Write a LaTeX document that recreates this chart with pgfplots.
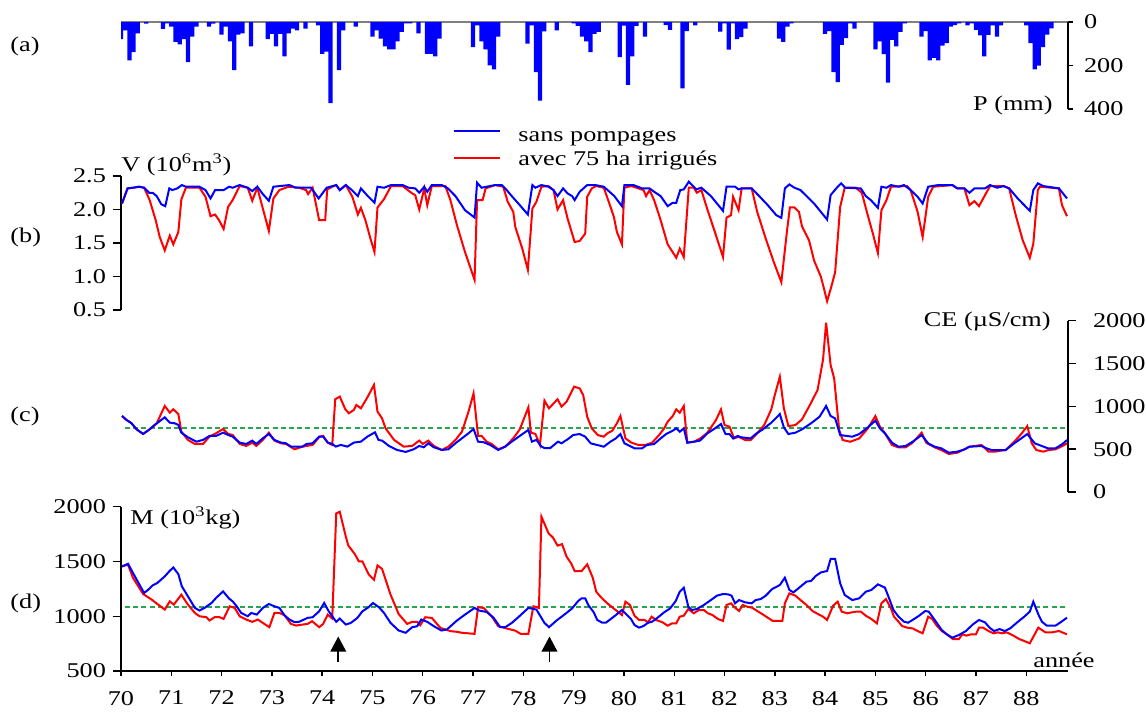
\documentclass[border=0pt]{standalone}
\usepackage{pgfplots}
\pgfplotsset{compat=1.18}
\usetikzlibrary{arrows.meta}
\usepackage{fontspec}
\setmainfont{Liberation Serif}[FakeStretch=1.25]
\definecolor{dgreen}{RGB}{40,165,80}
\pgfplotsset{
  myax/.style={scale only axis, width=473.5pt, xmin=70, xmax=88.83, anchor=north west,
    tick align=outside, axis line style={line width=0.7pt}, tick style={line width=0.7pt, black},
    major tick length=4pt},
  blu/.style={blue, line width=1pt},
  rd/.style={red, line width=1pt},
  gdash/.style={dgreen, line width=1pt, dash pattern=on 2.5pt off 1.6pt},
}
\begin{document}
\begin{tikzpicture}[font=\fontsize{10.5}{12.5}\selectfont]
\path[use as bounding box] (0,0) rectangle (573pt,-362pt);

% ---------------- (a) precipitation
\begin{axis}[myax, at={(60.5pt,-11pt)}, height=43.5pt, ymin=-400, ymax=0,
  axis x line*=top, axis y line*=right, xtick=\empty,
  ytick={-400,-200,0}, yticklabels={400,200,0},
  yticklabel style={xshift=2pt},
  x axis line style={gray, line width=1pt}, major tick length=2.5pt]
\addplot[ybar, bar width=0.0845, bar shift=0pt, fill=blue, draw=none]
 table[row sep=\\, x expr=70+\thisrow{m}/12, y expr=-\thisrow{P}] {
m P\\ 0 79\\ 1 39\\ 2 176\\ 3 139\\ 4 52\\ 6 8\\ 10 32\\ 11 6\\ 12 21\\ 13 91\\ 14 103\\ 15 79\\ 16 185\\ 17 67\\ 18 21\\ 21 21\\ 22 8\\
24 58\\ 25 21\\ 26 89\\ 27 221\\ 28 58\\ 29 52\\ 31 112\\ 35 79\\ 36 55\\ 37 112\\ 38 55\\ 39 158\\ 40 52\\ 41 30\\ 42 39\\ 44 30\\ 47 15\\
48 147\\ 49 136\\ 50 373\\ 52 221\\ 53 39\\ 56 21\\ 60 67\\ 61 39\\ 62 76\\ 63 112\\ 64 126\\ 65 126\\ 66 89\\ 67 45\\ 68 6\\ 69 6\\ 71 52\\
73 147\\ 74 147\\ 75 158\\ 76 76\\ 84 115\\ 85 15\\ 86 89\\ 87 126\\ 88 199\\ 89 218\\ 90 67\\ 97 99\\ 98 15\\ 99 230\\ 100 362\\ 101 43\\
104 39\\ 108 6\\ 109 18\\ 110 67\\ 111 89\\ 112 139\\ 113 55\\ 114 45\\ 119 161\\ 120 17\\ 121 289\\ 122 158\\ 123 18\\ 125 67\\ 130 14\\
131 36\\ 134 305\\ 135 42\\ 137 15\\ 143 44\\ 144 6\\ 145 127\\ 146 6\\ 147 79\\ 148 70\\ 149 30\\ 157 76\\ 158 91\\ 159 21\\ 160 6\\
168 55\\ 169 42\\ 170 230\\ 171 276\\ 172 105\\ 173 74\\ 174 6\\ 175 30\\ 180 126\\ 181 89\\ 182 148\\ 183 279\\ 184 82\\ 185 112\\ 186 45\\
187 6\\ 191 67\\ 192 42\\ 193 176\\ 194 165\\ 195 176\\ 196 109\\ 197 97\\ 198 21\\ 199 14\\ 200 6\\ 202 15\\ 203 6\\ 204 36\\ 205 61\\
206 158\\ 207 59\\ 208 15\\ 209 67\\ 210 15\\ 216 15\\ 217 97\\ 218 218\\ 219 200\\ 220 115\\ 221 58\\ 222 29\\
};
\end{axis}

% ---------------- (b) volume
\begin{axis}[myax, at={(60.5pt,-88pt)}, height=67pt, ymin=0.5, ymax=2.5,
  axis y line*=left, axis x line=none,
  ytick={0.5,1,1.5,2,2.5}, yticklabels={0.5,1.0,1.5,2.0,2.5}]
\addplot[rd] coordinates {(70.02,2.09)(70.13,2.315)(70.24,2.325)(70.36,2.34)(70.46,2.325)(70.57,2.14)(70.69,1.84)(70.77,1.59)(70.87,1.39)(70.97,1.61)(71.04,1.48)(71.14,1.665)(71.2,2.15)(71.29,2.325)(71.56,2.325)(71.68,2.19)(71.78,1.9)(71.87,1.925)(71.95,1.84)(72.04,1.71)(72.13,2.04)(72.22,2.14)(72.36,2.35)(72.52,2.325)(72.61,2.13)(72.71,2.325)(72.82,2.015)(72.94,1.68)(73.03,2.165)(73.15,2.29)(73.33,2.34)(73.54,2.325)(73.68,2.29)(73.72,2.23)(73.81,2.325)(73.86,2.14)(73.94,1.84)(74.06,1.84)(74.1,2.3)(74.2,2.34)(74.28,2.365)(74.35,2.29)(74.47,2.365)(74.6,2.19)(74.71,1.925)(74.77,2.025)(74.86,1.84)(74.96,1.565)(75.04,1.365)(75.1,2.03)(75.23,2.155)(75.37,2.35)(75.6,2.35)(75.79,2.24)(75.85,2.215)(75.93,2.0)(76.03,2.315)(76.09,2.065)(76.18,2.35)(76.45,2.35)(76.55,2.14)(76.68,1.765)(76.84,1.365)(77.03,0.95)(77.08,2.14)(77.19,2.14)(77.25,2.315)(77.44,2.365)(77.6,2.34)(77.69,2.115)(77.8,1.965)(77.84,1.74)(77.98,1.415)(78.09,1.1)(78.18,2.015)(78.26,2.115)(78.36,2.34)(78.5,2.35)(78.6,2.29)(78.68,2.0)(78.79,2.14)(78.88,1.865)(79.02,1.515)(79.12,1.53)(79.23,1.64)(79.27,2.19)(79.36,2.315)(79.45,2.35)(79.6,2.325)(79.71,2.09)(79.8,1.89)(79.86,1.665)(79.96,1.48)(80.01,2.325)(80.15,2.35)(80.39,2.29)(80.44,2.2)(80.51,2.29)(80.6,2.14)(80.71,1.89)(80.87,1.48)(81.04,1.28)(81.11,1.415)(81.19,1.29)(81.29,2.325)(81.39,2.325)(81.45,2.25)(81.54,2.29)(81.66,2.0)(81.83,1.615)(81.97,1.29)(82.04,1.88)(82.13,1.915)(82.17,2.19)(82.28,1.99)(82.34,2.315)(82.54,2.315)(82.65,1.965)(82.82,1.565)(82.98,1.215)(83.13,0.915)(83.24,1.665)(83.3,2.03)(83.39,2.03)(83.48,1.965)(83.54,1.75)(83.68,1.54)(83.78,1.24)(83.92,0.99)(84.04,0.63)(84.13,0.865)(84.2,1.065)(84.3,2.04)(84.39,2.325)(84.61,2.325)(84.73,2.25)(84.83,1.965)(84.95,1.64)(85.05,1.35)(85.12,1.99)(85.22,2.14)(85.31,2.34)(85.63,2.35)(85.7,2.29)(85.84,1.965)(85.94,1.59)(86.05,2.19)(86.15,2.34)(86.53,2.365)(86.63,2.315)(86.77,2.315)(86.87,2.065)(86.97,2.125)(87.06,2.05)(87.18,2.215)(87.28,2.35)(87.55,2.35)(87.66,2.315)(87.79,1.915)(87.93,1.54)(88.07,1.28)(88.14,1.49)(88.23,2.29)(88.27,2.34)(88.65,2.315)(88.71,2.065)(88.81,1.9)};
\addplot[blu] coordinates {(70.02,2.09)(70.13,2.315)(70.24,2.325)(70.36,2.34)(70.46,2.325)(70.56,2.25)(70.63,2.25)(70.71,2.2)(70.8,2.08)(70.88,2.05)(70.96,2.315)(71.02,2.29)(71.12,2.315)(71.21,2.365)(71.29,2.34)(71.56,2.34)(71.68,2.29)(71.78,2.165)(71.87,2.29)(72.04,2.29)(72.15,2.34)(72.22,2.325)(72.36,2.365)(72.52,2.325)(72.61,2.275)(72.71,2.34)(72.82,2.23)(72.94,2.13)(73.03,2.34)(73.35,2.365)(73.47,2.325)(73.78,2.325)(73.93,2.165)(74.09,2.325)(74.28,2.365)(74.35,2.29)(74.47,2.365)(74.59,2.29)(74.71,2.2)(74.77,2.315)(74.92,2.19)(75.04,2.1)(75.1,2.34)(75.23,2.325)(75.37,2.365)(75.6,2.365)(75.72,2.325)(75.85,2.315)(75.93,2.25)(76.03,2.34)(76.09,2.265)(76.18,2.365)(76.38,2.365)(76.5,2.315)(76.65,2.2)(76.84,1.99)(77.03,1.88)(77.08,2.4)(77.17,2.325)(77.44,2.365)(77.57,2.365)(77.64,2.315)(77.77,2.2)(77.93,2.065)(78.09,1.925)(78.18,2.365)(78.24,2.325)(78.36,2.365)(78.5,2.34)(78.6,2.29)(78.68,2.2)(78.79,2.315)(78.88,2.24)(78.97,2.2)(79.02,2.14)(79.12,2.265)(79.27,2.365)(79.43,2.365)(79.6,2.34)(79.81,2.2)(79.96,2.05)(80.01,2.365)(80.19,2.365)(80.36,2.315)(80.51,2.315)(80.6,2.265)(80.73,2.2)(80.87,2.05)(80.97,2.1)(81.04,2.1)(81.12,2.29)(81.19,2.3)(81.29,2.415)(81.44,2.3)(81.54,2.325)(81.73,2.2)(81.97,1.98)(82.04,2.34)(82.21,2.34)(82.28,2.3)(82.34,2.315)(82.54,2.315)(82.69,2.2)(82.86,2.065)(83.03,1.915)(83.13,1.875)(83.2,2.315)(83.29,2.375)(83.39,2.325)(83.51,2.29)(83.78,2.09)(84.04,1.85)(84.11,2.215)(84.25,2.34)(84.32,2.39)(84.4,2.325)(84.71,2.315)(84.81,2.2)(84.91,2.14)(85.05,2.025)(85.12,2.34)(85.22,2.325)(85.31,2.365)(85.46,2.34)(85.57,2.365)(85.7,2.29)(85.84,2.19)(85.94,2.09)(86.05,2.34)(86.25,2.365)(86.53,2.365)(86.63,2.315)(86.77,2.315)(86.87,2.25)(86.97,2.315)(87.18,2.315)(87.28,2.365)(87.42,2.325)(87.55,2.35)(87.66,2.315)(87.83,2.165)(87.96,2.065)(88.07,1.98)(88.14,2.29)(88.23,2.39)(88.34,2.35)(88.65,2.315)(88.81,2.165)};
\end{axis}

% ---------------- (c) conductivity
\begin{axis}[myax, at={(60.5pt,-160.35pt)}, height=85.65pt, ymin=0, ymax=2000,
  axis y line*=right, axis x line=none,
  ytick={0,500,1000,1500,2000}, yticklabels={0,500,1000,1500,2000},
  yticklabel style={xshift=5pt}]
\addplot[gdash] coordinates {(70.08,745)(88.81,745)};
\addplot[rd] coordinates {(70.02,888)(70.11,841)(70.21,802)(70.31,732)(70.44,678)(70.57,732)(70.71,802)(70.87,1005)(70.97,927)(71.04,966)(71.14,911)(71.2,705)(71.33,608)(71.47,561)(71.63,561)(71.76,647)(71.89,686)(72.03,736)(72.13,678)(72.22,666)(72.36,561)(72.49,538)(72.61,577)(72.69,538)(72.82,608)(72.94,693)(73.05,600)(73.18,569)(73.28,561)(73.45,499)(73.61,530)(73.81,550)(73.95,647)(74.02,655)(74.11,577)(74.2,550)(74.26,1083)(74.35,1114)(74.46,966)(74.53,919)(74.63,958)(74.68,1016)(74.77,977)(74.9,1106)(75.03,1250)(75.1,939)(75.19,861)(75.26,744)(75.43,608)(75.62,530)(75.79,538)(75.93,600)(76.0,561)(76.11,600)(76.22,538)(76.38,491)(76.51,530)(76.65,608)(76.78,705)(76.91,939)(77.01,1152)(77.1,655)(77.17,655)(77.27,588)(77.37,561)(77.5,499)(77.64,530)(77.8,627)(77.93,732)(78.1,989)(78.15,693)(78.24,678)(78.33,550)(78.42,1067)(78.51,977)(78.68,1083)(78.76,997)(78.86,1055)(79.01,1230)(79.12,1210)(79.19,1132)(79.27,879)(79.36,743)(79.48,665)(79.6,646)(79.67,685)(79.77,716)(79.86,802)(79.93,887)(80.03,626)(80.15,576)(80.29,549)(80.43,549)(80.56,576)(80.7,665)(80.8,743)(80.87,821)(80.97,887)(81.04,965)(81.11,926)(81.19,1004)(81.26,576)(81.39,587)(81.52,626)(81.66,693)(81.83,840)(81.93,965)(82.0,782)(82.1,763)(82.19,626)(82.28,646)(82.41,607)(82.52,607)(82.62,665)(82.79,782)(82.93,965)(83.0,1132)(83.1,1346)(83.18,977)(83.27,770)(83.41,782)(83.54,848)(83.68,996)(83.85,1191)(83.96,1549)(84.02,1977)(84.11,1482)(84.18,1327)(84.28,724)(84.35,607)(84.5,587)(84.68,626)(84.85,743)(85.0,887)(85.09,763)(85.19,685)(85.33,549)(85.46,521)(85.6,521)(85.74,576)(85.92,693)(86.01,576)(86.18,521)(86.31,490)(86.46,444)(86.63,459)(86.77,498)(86.87,529)(87.11,549)(87.25,471)(87.38,471)(87.48,482)(87.59,490)(87.76,587)(87.9,677)(88.02,770)(88.11,568)(88.2,490)(88.34,471)(88.44,490)(88.58,498)(88.72,537)(88.81,568)};
\addplot[blu] coordinates {(70.02,888)(70.11,841)(70.21,802)(70.31,732)(70.44,678)(70.57,732)(70.67,783)(70.87,872)(70.97,810)(71.07,802)(71.14,783)(71.2,693)(71.33,639)(71.5,588)(71.63,608)(71.76,655)(71.89,655)(72.03,693)(72.13,666)(72.22,647)(72.36,577)(72.49,561)(72.61,600)(72.69,561)(72.82,627)(72.94,678)(73.05,608)(73.18,577)(73.28,569)(73.38,530)(73.61,530)(73.69,561)(73.81,569)(73.94,647)(74.02,647)(74.11,577)(74.2,561)(74.27,530)(74.37,550)(74.5,530)(74.63,577)(74.77,588)(74.9,647)(75.05,697)(75.12,608)(75.19,600)(75.33,538)(75.49,491)(75.66,468)(75.82,499)(75.93,538)(76.02,522)(76.11,569)(76.22,522)(76.38,491)(76.51,499)(76.65,569)(76.78,627)(76.91,686)(77.01,736)(77.1,588)(77.21,581)(77.34,550)(77.5,491)(77.64,530)(77.77,588)(77.93,655)(78.1,725)(78.17,588)(78.26,608)(78.36,530)(78.43,511)(78.53,511)(78.69,588)(78.76,569)(78.88,615)(78.99,665)(79.12,677)(79.23,646)(79.34,568)(79.47,549)(79.6,529)(79.73,587)(79.84,626)(79.93,677)(80.01,568)(80.12,537)(80.21,510)(80.36,510)(80.46,549)(80.6,560)(80.73,626)(80.84,677)(80.97,716)(81.04,743)(81.11,704)(81.19,743)(81.26,576)(81.39,587)(81.51,599)(81.66,685)(81.81,743)(81.93,794)(82.02,677)(82.1,677)(82.17,626)(82.26,654)(82.34,638)(82.52,626)(82.62,677)(82.76,731)(82.93,809)(83.1,910)(83.18,755)(83.27,677)(83.41,693)(83.54,731)(83.72,802)(83.89,879)(84.02,1004)(84.11,887)(84.2,860)(84.3,665)(84.44,654)(84.54,646)(84.68,677)(84.85,755)(85.0,833)(85.09,743)(85.19,685)(85.33,576)(85.46,529)(85.6,537)(85.74,587)(85.92,665)(86.05,568)(86.18,529)(86.31,510)(86.46,459)(86.63,471)(86.77,498)(86.87,529)(87.11,537)(87.21,510)(87.31,490)(87.59,490)(87.76,568)(87.9,626)(88.02,677)(88.17,568)(88.31,537)(88.43,510)(88.58,510)(88.72,560)(88.81,607)};
\end{axis}

% ---------------- (d) mass
\begin{axis}[myax, at={(60.5pt,-253.35pt)}, height=82.15pt, ymin=500, ymax=2000,
  axis y line*=left, axis x line*=bottom,
  xtick={70,71,...,88}, xticklabels={70,71,72,73,74,75,76,77,78,79,80,81,82,83,84,85,86,87,88},
  xticklabel style={yshift=-2.5pt},
  ytick={500,1000,1500,2000}, yticklabels={500,1000,1500,2000},
  xtick style={/pgfplots/major tick length=2.5pt}]
\addplot[gdash] coordinates {(70.08,1082)(88.81,1082)};
\addplot[rd] coordinates {(70.02,1455)(70.14,1470)(70.24,1349)(70.44,1203)(70.61,1152)(70.74,1106)(70.87,1061)(70.97,1136)(71.05,1106)(71.2,1197)(71.33,1106)(71.47,1030)(71.56,1000)(71.7,991)(71.76,961)(71.86,991)(71.96,991)(72.04,976)(72.16,1091)(72.26,1076)(72.36,1000)(72.49,970)(72.61,949)(72.72,970)(72.82,939)(72.95,900)(73.05,1030)(73.15,1030)(73.25,1009)(73.38,930)(73.48,915)(73.61,924)(73.71,930)(73.8,955)(73.94,900)(74.02,930)(74.11,1015)(74.2,979)(74.28,1939)(74.35,1954)(74.47,1727)(74.52,1645)(74.65,1567)(74.73,1500)(74.8,1500)(74.93,1379)(75.03,1333)(75.1,1464)(75.19,1433)(75.36,1197)(75.52,1021)(75.69,930)(75.79,949)(75.89,949)(75.95,918)(76.05,991)(76.18,985)(76.35,894)(76.55,864)(76.68,858)(76.78,849)(77.03,839)(77.1,1082)(77.21,1076)(77.37,1000)(77.5,909)(77.67,888)(77.83,870)(77.95,839)(78.1,839)(78.2,1091)(78.31,1076)(78.36,1909)(78.5,1758)(78.59,1718)(78.68,1645)(78.77,1658)(78.86,1544)(78.95,1483)(79.02,1413)(79.16,1413)(79.27,1474)(79.38,1352)(79.45,1224)(79.55,1170)(79.67,1118)(79.81,1066)(79.96,1011)(80.03,1133)(80.12,1103)(80.21,1005)(80.3,966)(80.41,966)(80.48,944)(80.55,996)(80.64,966)(80.77,944)(80.87,914)(80.96,935)(81.04,935)(81.11,996)(81.19,1005)(81.28,1066)(81.39,1027)(81.49,1057)(81.59,1057)(81.67,1027)(81.76,1011)(81.87,975)(81.97,957)(82.04,1103)(82.13,1118)(82.21,1078)(82.29,1048)(82.36,1103)(82.45,1087)(82.55,1078)(82.65,1048)(82.76,1017)(82.86,987)(82.96,957)(83.15,957)(83.2,1118)(83.29,1209)(83.41,1188)(83.51,1148)(83.63,1103)(83.75,1048)(83.87,1017)(83.96,996)(84.04,966)(84.16,1097)(84.25,1133)(84.33,1042)(84.44,1027)(84.54,1036)(84.62,1042)(84.71,1042)(84.81,1005)(84.92,975)(85.03,935)(85.12,1118)(85.21,1157)(85.31,1072)(85.37,996)(85.46,950)(85.53,911)(85.63,896)(85.74,889)(85.84,865)(85.94,844)(86.05,996)(86.13,975)(86.22,914)(86.32,865)(86.42,835)(86.54,792)(86.66,792)(86.73,835)(86.81,823)(86.9,835)(87.0,835)(87.06,896)(87.14,896)(87.25,865)(87.35,844)(87.43,853)(87.52,844)(87.61,853)(87.72,829)(87.86,792)(87.96,774)(88.07,753)(88.16,829)(88.24,896)(88.38,853)(88.51,853)(88.65,865)(88.81,835)};
\addplot[blu] coordinates {(70.02,1455)(70.14,1479)(70.24,1394)(70.36,1294)(70.46,1212)(70.54,1242)(70.63,1282)(70.72,1303)(70.87,1364)(70.97,1415)(71.04,1445)(71.14,1385)(71.21,1273)(71.33,1182)(71.47,1076)(71.56,1052)(71.66,1076)(71.8,1121)(71.89,1167)(72.03,1227)(72.15,1161)(72.22,1136)(72.3,1091)(72.39,1030)(72.52,1000)(72.59,1030)(72.7,1015)(72.82,1076)(72.94,1112)(73.05,1091)(73.15,1076)(73.25,1009)(73.35,970)(73.45,946)(73.54,949)(73.71,985)(73.81,991)(73.94,1045)(74.04,1121)(74.13,1045)(74.28,949)(74.35,979)(74.47,924)(74.57,939)(74.7,985)(74.8,1045)(74.92,1082)(75.01,1121)(75.13,1082)(75.23,1030)(75.36,939)(75.52,870)(75.66,849)(75.79,900)(75.89,909)(75.97,970)(76.09,949)(76.22,909)(76.37,870)(76.48,879)(76.68,961)(76.84,1015)(77.03,1076)(77.12,1052)(77.27,1039)(77.41,985)(77.54,900)(77.64,900)(77.77,939)(77.9,991)(78.1,1076)(78.26,1061)(78.42,939)(78.51,900)(78.66,961)(78.85,1027)(78.97,1072)(79.09,1139)(79.16,1164)(79.23,1164)(79.29,1103)(79.4,1036)(79.47,966)(79.57,941)(79.64,941)(79.74,975)(79.84,1011)(79.96,1057)(80.05,1017)(80.14,975)(80.21,920)(80.3,896)(80.39,911)(80.48,941)(80.56,950)(80.67,987)(80.8,1036)(80.92,1072)(81.03,1139)(81.11,1224)(81.19,1261)(81.28,1087)(81.35,1057)(81.45,1066)(81.59,1103)(81.73,1148)(81.85,1188)(81.97,1203)(82.07,1200)(82.14,1188)(82.21,1118)(82.29,1148)(82.41,1127)(82.54,1118)(82.62,1148)(82.72,1157)(82.82,1188)(82.95,1249)(83.1,1285)(83.2,1352)(83.29,1240)(83.37,1218)(83.51,1270)(83.63,1316)(83.72,1322)(83.82,1370)(83.92,1401)(84.04,1413)(84.11,1523)(84.2,1523)(84.3,1300)(84.39,1194)(84.54,1148)(84.68,1164)(84.81,1224)(84.92,1240)(85.05,1291)(85.19,1261)(85.26,1179)(85.36,1057)(85.46,996)(85.57,950)(85.65,941)(85.77,975)(85.87,1005)(85.99,1048)(86.06,1042)(86.18,966)(86.32,874)(86.42,835)(86.53,804)(86.66,829)(86.8,865)(86.94,926)(87.06,966)(87.18,944)(87.27,896)(87.36,865)(87.47,883)(87.57,865)(87.68,889)(87.82,944)(87.96,996)(88.07,1042)(88.14,1133)(88.24,1017)(88.31,950)(88.41,914)(88.58,914)(88.68,944)(88.81,987)};
\draw[line width=0.8pt, -{Triangle[width=7.8pt,length=7.5pt]}] (axis cs:74.32,585) -- (axis cs:74.32,815);
\draw[line width=0.8pt, -{Triangle[width=7.8pt,length=7.5pt]}] (axis cs:78.52,585) -- (axis cs:78.52,815);
\end{axis}

% ---------------- labels and legend
\node[anchor=west, inner sep=0pt] at (5pt,-23pt) {(a)};
\node[anchor=west, inner sep=0pt] at (5pt,-118.5pt) {(b)};
\node[anchor=west, inner sep=0pt] at (5pt,-208pt) {(c)};
\node[anchor=west, inner sep=0pt] at (5pt,-301.5pt) {(d)};
\node[anchor=base west, inner sep=0pt] at (60.5pt,-85.85pt) {V (10\textsuperscript{6}m\textsuperscript{3})};
\node[anchor=base west, inner sep=0pt] at (65pt,-262.2pt) {M (10\textsuperscript{3}kg)};
\node[anchor=base east, inner sep=0pt] at (525.5pt,-163.3pt) {CE (µS/cm)};
\node[anchor=base east, inner sep=0pt] at (526.5pt,-55pt) {P (mm)};
\node[anchor=base west, inner sep=0pt] at (516.5pt,-333.8pt) {année};
\draw[blue, line width=1pt] (227pt,-65.5pt) -- (250pt,-65.5pt);
\draw[red, line width=1pt] (227pt,-79.15pt) -- (250pt,-79.15pt);
\node[anchor=base west, inner sep=0pt] at (259pt,-70.5pt) {sans pompages};
\node[anchor=base west, inner sep=0pt] at (259pt,-82.85pt) {avec 75 ha irrigués};
\end{tikzpicture}
\end{document}
